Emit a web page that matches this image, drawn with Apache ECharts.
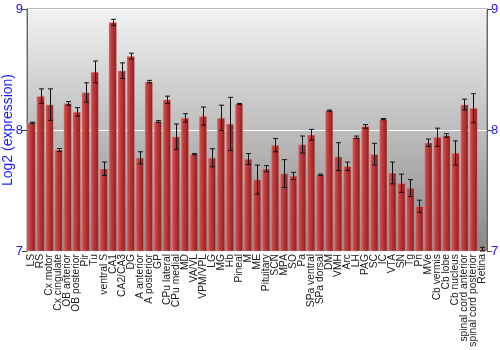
<!DOCTYPE html>
<html><head><meta charset="utf-8">
<script src="https://cdn.jsdelivr.net/npm/echarts@6/dist/echarts.min.js"></script>
<style>html,body{margin:0;padding:0;background:#fff}#c{width:500px;height:350px}</style>
</head><body><div id="c"></div>
<script>
const categories = ["LS","RS","Cx motor","Cx cingulate","OB anterior","OB posterior","Pir","Tu","ventral S","CA1","CA2/CA3","DG","A anterior","A posterior","GP","CPu lateral","CPu medial","MD","VA/VL","VPM/VPL","LG","MG","Hb","Pineal","M","ME","Pituitary","SCN","MPA","SO","Pa","SPa ventral","SPa dorsal","DM","VMH","Arc","LH","PAG","SC","IC","VTA","SN","Tg","Pn","MVe","Cb vermis","Cb lobe","Cb nucleus","spinal cord anterior","spinal cord posterior","Retina"];
const values = [8.06,8.28,8.21,7.835,8.22,8.15,8.31,8.48,7.68,8.89,8.49,8.61,7.77,8.40,8.07,8.25,7.945,8.10,7.80,8.115,7.77,8.10,8.05,8.215,7.76,7.59,7.68,7.875,7.64,7.62,7.88,7.96,7.63,8.16,7.78,7.70,7.94,8.03,7.80,8.09,7.645,7.56,7.52,7.37,7.895,7.94,7.955,7.81,8.21,8.18,7.015];
const errors = [0.005,0.06,0.13,0.012,0.015,0.035,0.08,0.09,0.055,0.025,0.065,0.025,0.05,0.01,0.008,0.03,0.105,0.035,0.005,0.075,0.075,0.105,0.22,0.005,0.045,0.12,0.025,0.055,0.115,0.03,0.07,0.045,0.005,0.005,0.115,0.035,0.01,0.015,0.09,0.005,0.09,0.075,0.07,0.05,0.03,0.075,0.015,0.1,0.045,0.12,0.015];
const yTicks = [7, 8, 9];

const chart = echarts.init(document.getElementById('c'), null, {renderer:'canvas'});
const blue = '#1a1aff';
const errData = values.map((v,i)=>[i, v, v-errors[i], v+errors[i]]);
const yBase = {
  type:'value', min:yTicks[0], max:yTicks[yTicks.length-1], interval:1,
  axisLine:{show:true, lineStyle:{color:'#666', width:1}},
  axisTick:{show:true, length:5, lineStyle:{color:'#444'}},
  axisLabel:{color:blue, fontSize:13, fontFamily:'Liberation Sans', margin:4},
};
chart.setOption({
  animation:false,
  grid:{left:27, right:13, top:9, bottom:99, show:true, containLabel:false, outerBoundsMode:'none',
    backgroundColor:new echarts.graphic.LinearGradient(0,0,0,1,[{offset:0,color:'#f2f2f2'},{offset:1,color:'#888888'}]),
    borderColor:'#777', borderWidth:1},
  xAxis:{type:'category', data:categories,
    axisLine:{show:false}, axisTick:{show:false},
    axisLabel:{rotate:90, interval:0, fontSize:10.3, color:'#222', fontFamily:'Liberation Sans', margin:3}},
  yAxis:[
    Object.assign({}, yBase, {position:'left', name:'Log2 (expression)', nameLocation:'middle', nameGap:12,
      nameMoveOverlap:false,
      nameTextStyle:{color:blue, fontSize:14, fontFamily:'Liberation Sans'},
      splitLine:{show:true, lineStyle:{color:'#ffffff', width:1}}}),
    Object.assign({}, yBase, {position:'right', splitLine:{show:false}})
  ],
  series:[
    {type:'bar', data:values, barCategoryGap:'12%',
      itemStyle:{color:new echarts.graphic.LinearGradient(0,0,1,0,[
        {offset:0,color:'#d25a5a'},{offset:0.35,color:'#c13c3c'},{offset:1,color:'#8a1c1c'}]),
        borderColor:'rgba(230,150,150,0.6)', borderWidth:0.6}},
    {type:'custom', data:errData, encode:{x:0, y:[1,2,3]}, z:5,
      renderItem:function(params, api){
        const i = api.value(0);
        const hi = api.coord([i, api.value(3)]);
        const lo = api.coord([i, api.value(2)]);
        const x = Math.round(hi[0]) + 0.5;
        const cw = 2.5;
        const st = {stroke:'#111', lineWidth:1};
        return {type:'group', children:[
          {type:'line', shape:{x1:x, y1:hi[1], x2:x, y2:lo[1]}, style:st},
          {type:'line', shape:{x1:x-cw, y1:hi[1], x2:x+cw, y2:hi[1]}, style:st},
          {type:'line', shape:{x1:x-cw, y1:lo[1], x2:x+cw, y2:lo[1]}, style:st}
        ]};
      }}
  ]
});
</script></body></html>
